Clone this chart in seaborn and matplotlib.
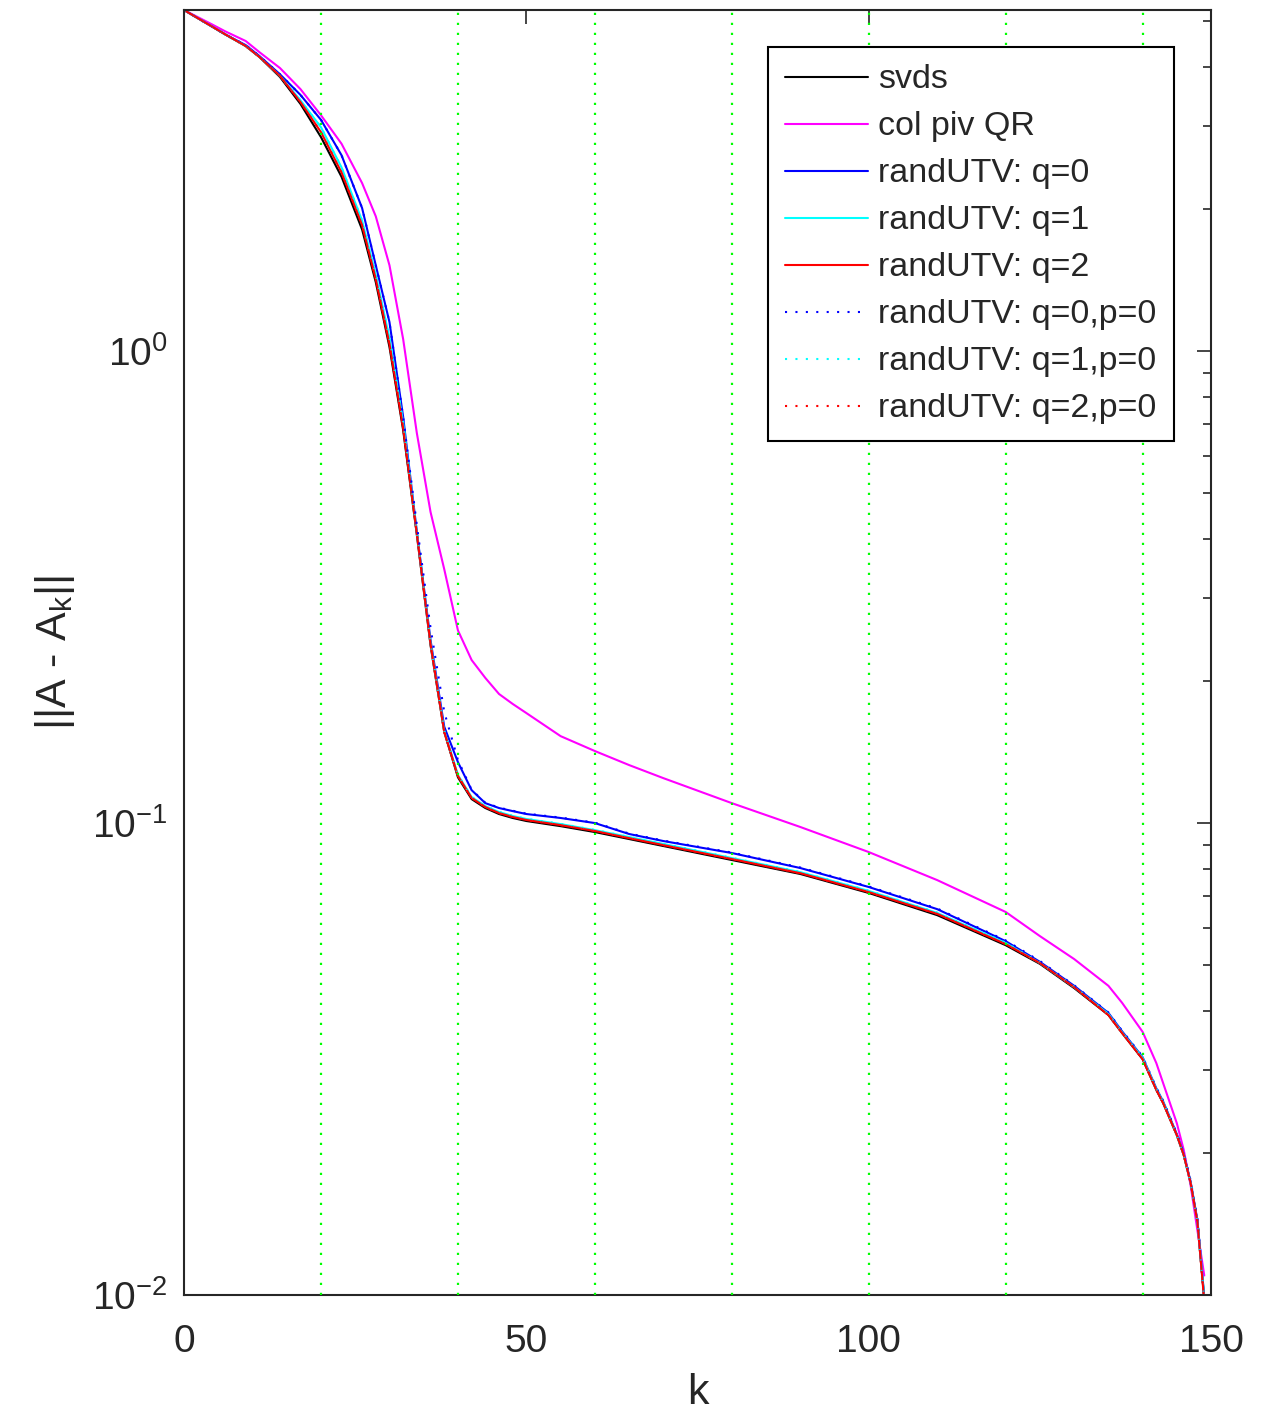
import numpy as np
import pandas as pd
import matplotlib
matplotlib.use('Agg')
import matplotlib.pyplot as plt
from matplotlib.ticker import LogLocator, NullFormatter
import seaborn as sns

k = [0, 4, 6, 9, 11, 14, 17, 20, 23, 26, 28, 30, 32, 34, 36, 38, 40, 42, 44, 46, 48, 50,
     55, 60, 65, 70, 80, 90, 100, 110, 120, 125, 130, 135, 137, 140, 142, 143, 145, 146,
     147, 148, 149]

svds = [5.28, 4.88, 4.69, 4.43, 4.20, 3.81, 3.34, 2.84, 2.34, 1.81, 1.40, 1.02, 0.680, 0.408,
        0.238, 0.156, 0.125, 0.1124, 0.1076, 0.1045, 0.1025, 0.1010, 0.0985, 0.0957, 0.0925,
        0.0894, 0.0835, 0.0780, 0.0711, 0.0638, 0.0551, 0.0503, 0.0447, 0.0392, 0.0359, 0.0316,
        0.0272, 0.0255, 0.0218, 0.0198, 0.0173, 0.0143, 0.0098]
colpivqr = [5.28, 4.93, 4.76, 4.54, 4.30, 3.98, 3.59, 3.16, 2.75, 2.27, 1.93, 1.52, 1.06, 0.670,
            0.456, 0.345, 0.256, 0.2215, 0.203, 0.1877, 0.1788, 0.1710, 0.1528, 0.1421, 0.1327,
            0.1245, 0.1102, 0.0981, 0.0868, 0.0757, 0.0648, 0.0576, 0.0515, 0.0452, 0.0416,
            0.0361, 0.0310, 0.0281, 0.0231, 0.0203, 0.0171, 0.0137, 0.0110]
utv_q0 = [5.28, 4.88, 4.69, 4.45, 4.22, 3.86, 3.49, 3.09, 2.60, 2.01, 1.52, 1.152, 0.725, 0.414,
          0.244, 0.160, 0.1346, 0.1174, 0.1102, 0.1076, 0.1060, 0.1045, 0.1025, 0.1000, 0.0948,
          0.0916, 0.0864, 0.0803, 0.0732, 0.0657, 0.0562, 0.0508, 0.0452, 0.0396, 0.0362, 0.0319,
          0.0274, 0.0257, 0.0219, 0.0199, 0.0174, 0.0144, 0.0099]
utv_q1 = [5.28, 4.88, 4.69, 4.43, 4.20, 3.83, 3.40, 2.98, 2.45, 1.89, 1.45, 1.065, 0.704, 0.412,
          0.2406, 0.1566, 0.1264, 0.1135, 0.1086, 0.1055, 0.1035, 0.1020, 0.0995, 0.0966, 0.0934,
          0.0903, 0.0843, 0.0787, 0.0718, 0.0645, 0.0557, 0.0505, 0.0449, 0.0394, 0.0360, 0.0318,
          0.0273, 0.0256, 0.0218, 0.0198, 0.0173, 0.0143, 0.0099]
utv_q2 = [5.28, 4.88, 4.69, 4.43, 4.20, 3.83, 3.37, 2.91, 2.39, 1.85, 1.42, 1.035, 0.687, 0.410,
          0.2394, 0.156, 0.1258, 0.1130, 0.1081, 0.1050, 0.1030, 0.1015, 0.0990, 0.0962, 0.0929,
          0.0898, 0.0839, 0.0783, 0.0714, 0.0642, 0.0554, 0.0505, 0.0449, 0.0392, 0.0359, 0.0316,
          0.0272, 0.0255, 0.0218, 0.0198, 0.0173, 0.0143, 0.0097]
utv_q0_p0 = [5.28, 4.88, 4.69, 4.45, 4.22, 3.86, 3.49, 3.09, 2.60, 2.01, 1.52, 1.152, 0.725, 0.428,
             0.259, 0.172, 0.136, 0.1176, 0.1104, 0.1078, 0.1062, 0.1047, 0.1027, 0.1002, 0.0950,
             0.0918, 0.0866, 0.0805, 0.0734, 0.0659, 0.0564, 0.0510, 0.0453, 0.0397, 0.0363,
             0.0320, 0.0275, 0.0258, 0.0220, 0.0200, 0.0175, 0.0145, 0.0099]
utv_q1_p0 = [5.28, 4.88, 4.69, 4.43, 4.20, 3.83, 3.40, 2.98, 2.45, 1.89, 1.45, 1.065, 0.704, 0.413,
             0.241, 0.157, 0.1266, 0.1136, 0.1087, 0.1056, 0.1036, 0.1021, 0.0996, 0.0967, 0.0935,
             0.0904, 0.0844, 0.0788, 0.0719, 0.0646, 0.0558, 0.0506, 0.0450, 0.0394, 0.0360,
             0.0318, 0.0273, 0.0256, 0.0218, 0.0198, 0.0173, 0.0143, 0.0098]
utv_q2_p0 = [5.28, 4.88, 4.69, 4.43, 4.20, 3.83, 3.37, 2.91, 2.39, 1.85, 1.42, 1.035, 0.687, 0.410,
             0.2394, 0.156, 0.1258, 0.1130, 0.1081, 0.1050, 0.1030, 0.1015, 0.0990, 0.0962, 0.0929,
             0.0898, 0.0839, 0.0783, 0.0714, 0.0642, 0.0554, 0.0505, 0.0449, 0.0392, 0.0359,
             0.0316, 0.0272, 0.0255, 0.0218, 0.0198, 0.0173, 0.0143, 0.0097]

labels = ['svds', 'col piv QR', 'randUTV: q=0', 'randUTV: q=1', 'randUTV: q=2',
          'randUTV: q=0,p=0', 'randUTV: q=1,p=0', 'randUTV: q=2,p=0']
guide_k = [20, 40, 60, 80, 100, 120, 140]
xtick_vals = [0, 50, 100, 150]
ytick_vals = [1e-2, 1e-1, 1e0]
ytick_labels = ['$10^{-2}$', '$10^{-1}$', '$10^{0}$']

sns.set_style('white')
plt.rcParams['font.family'] = ['Liberation Sans', 'DejaVu Sans']
plt.rcParams['mathtext.fontset'] = 'custom'
plt.rcParams['mathtext.rm'] = 'Liberation Sans'
plt.rcParams['mathtext.default'] = 'regular'
plt.rcParams['axes.unicode_minus'] = False

axcol = '#262626'
dot = (0, (1, 4))

fig = plt.figure(figsize=(12.65, 14.15), dpi=100)
ax = fig.add_axes([0.1455, 0.0848, 0.8119, 0.9081])

series = [svds, colpivqr, utv_q0, utv_q1, utv_q2, utv_q0_p0, utv_q1_p0, utv_q2_p0]
colors = ['black', '#ff00ff', '#0000ff', '#00ffff', '#ff0000', '#0000ff', '#00ffff', '#ff0000']
styles = ['-', '-', '-', '-', '-', dot, dot, dot]

for vals, lab, col, ls in zip(series, labels, colors, styles):
    sns.lineplot(x=k, y=vals, ax=ax, color=col, linestyle=ls, linewidth=1.5,
                 label=lab, sort=False)

# green dotted guide lines
for g in guide_k:
    ax.axvline(g, color='#00ff00', linestyle=(0, (1, 3.5)), linewidth=1.6, zorder=3)

ax.set_yscale('log')
ax.set_xlim(0, 150)
ax.set_ylim(0.01, 5.28)
ax.set_xticks(xtick_vals)
ax.set_yticks(ytick_vals, labels=ytick_labels)
ax.yaxis.set_minor_locator(LogLocator(base=10, subs=np.arange(2, 10)))
ax.yaxis.set_minor_formatter(NullFormatter())

ax.tick_params(which='both', direction='in', top=True, right=True, color=axcol,
               labelcolor=axcol, labelsize=28, width=1.2)
ax.tick_params(which='major', length=10)
ax.tick_params(which='minor', length=5.5)
ax.tick_params(axis='x', pad=21)
ax.tick_params(axis='y', pad=12)

for sp in ax.spines.values():
    sp.set_color(axcol)
    sp.set_linewidth(1.5)

ax.set_xlabel('k', fontsize=31, color=axcol, labelpad=9)
ax.set_ylabel('||A - A$_k$||', fontsize=31, color=axcol, labelpad=11)

leg = ax.legend(loc='upper right', fontsize=24.5, frameon=True, fancybox=False,
                edgecolor='black', framealpha=1, borderaxespad=1.1, handlelength=2.45,
                handletextpad=0.3, labelspacing=0.47, borderpad=0.5)
leg.get_frame().set_linewidth(1.5)

fig.savefig('out.png', dpi=100)
